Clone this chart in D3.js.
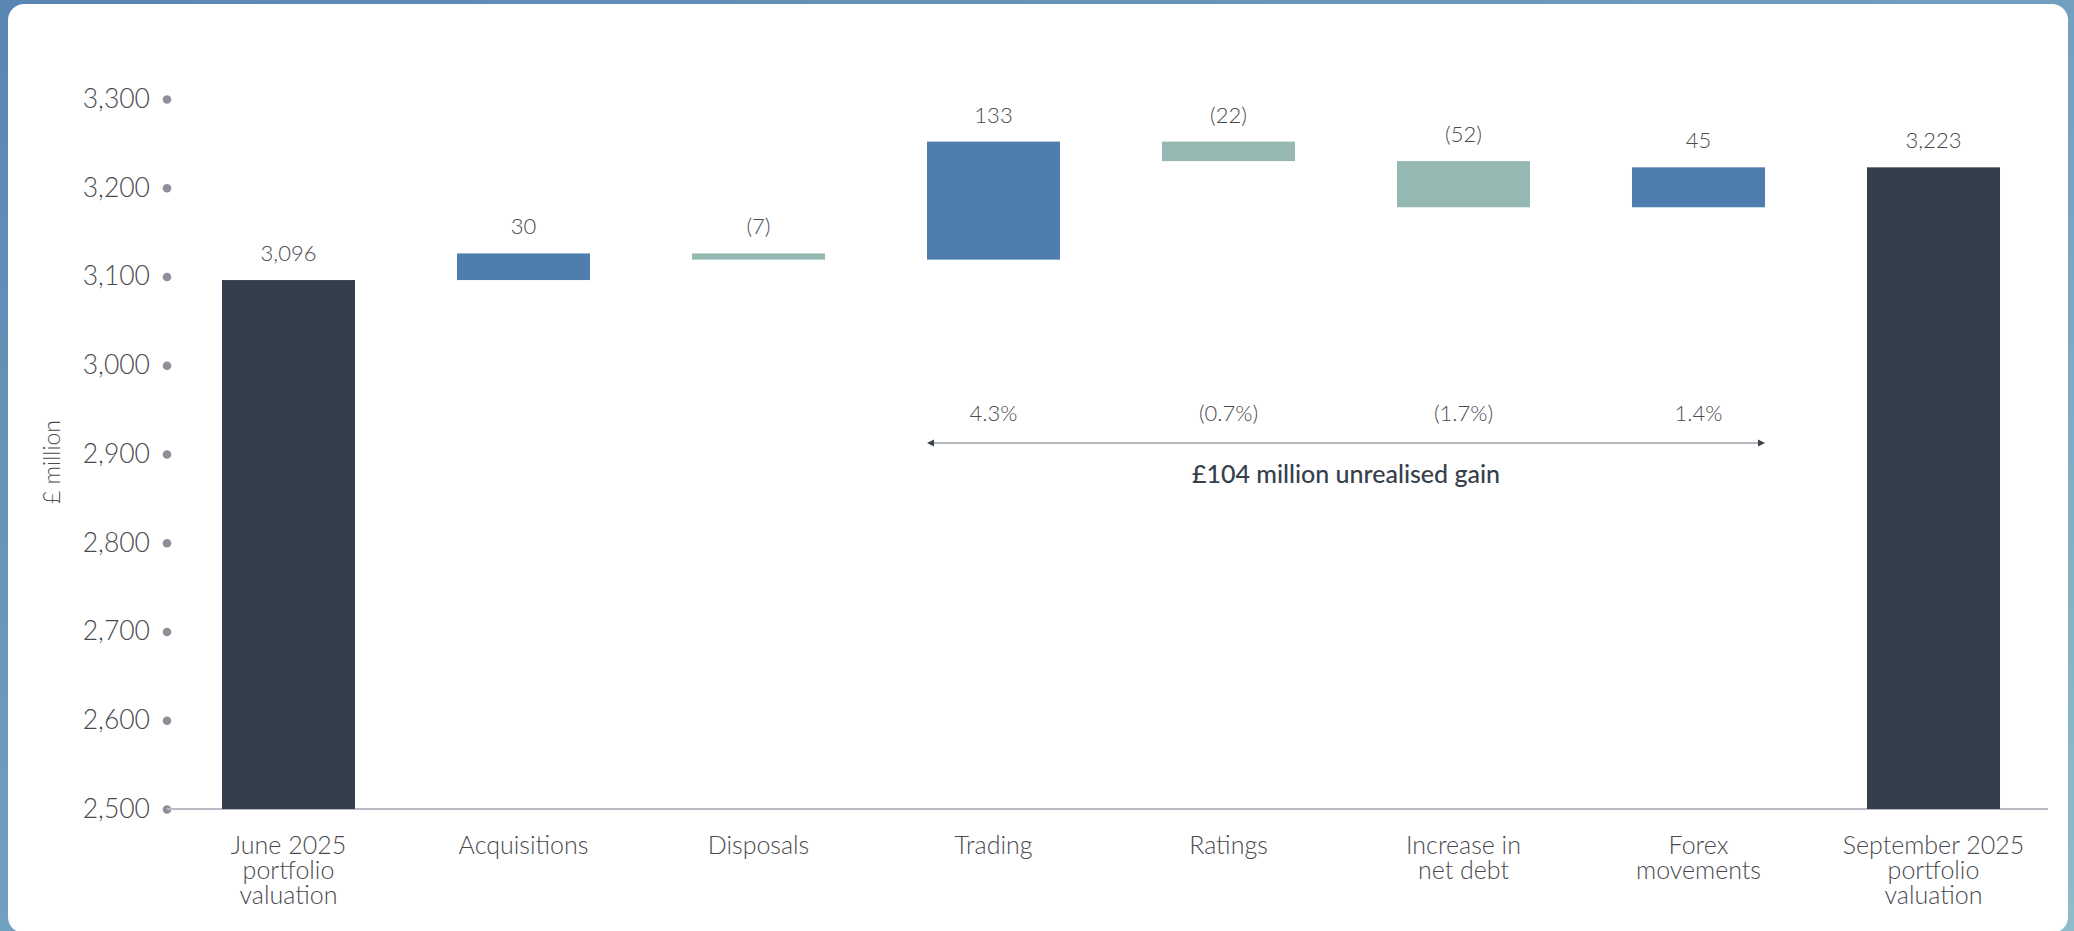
<!DOCTYPE html>
<html>
<head>
<meta charset="utf-8">
<script src="https://cdn.jsdelivr.net/npm/d3@7"></script>
<style>
  body { margin: 0; background: #fff; }
  svg text { font-family: Lato, "Open Sans", sans-serif; }
</style>
</head>
<body>
<div id="chart"></div>
<script>
// Puentes de valoración de cartera (£ million)
const categories = [
  "June 2025\nportfolio\nvaluation",
  "Acquisitions",
  "Disposals",
  "Trading",
  "Ratings",
  "Increase in\nnet debt",
  "Forex\nmovements",
  "September 2025\nportfolio\nvaluation"
];
const values = [3096, 30, -7, 133, -22, -52, 45, 3223];
const isTotal = [true, false, false, false, false, false, false, true];

const yTicks = [2500, 2600, 2700, 2800, 2900, 3000, 3100, 3200, 3300];

const pctCategories = ["Trading", "Ratings", "Increase in\nnet debt", "Forex\nmovements"];
const pctValues = [4.3, -0.7, -1.7, 1.4];
const gainLabel = "£104 million unrealised gain";

const W = 2074, H = 931;
const C_TOTAL = "#343e4a", C_UP = "#4e7dae", C_DOWN = "#95b8b2";
const TEXT = "#4a4a4f";

const svg = d3.select("#chart").append("svg")
  .attr("width", W).attr("height", H);

// --- Marco ---
const defs = svg.append("defs");
const grad = defs.append("linearGradient")
  .attr("id", "frame").attr("x1", "0").attr("y1", "0").attr("x2", "1").attr("y2", "1");
grad.append("stop").attr("offset", "0%").attr("stop-color", "#5886b2");
grad.append("stop").attr("offset", "55%").attr("stop-color", "#74a2c0");
grad.append("stop").attr("offset", "100%").attr("stop-color", "#8fbccb");
svg.append("rect").attr("width", W).attr("height", H).attr("fill", "url(#frame)");
svg.append("rect")
  .attr("x", 8).attr("y", 4).attr("width", W - 14).attr("height", H - 2)
  .attr("rx", 16).attr("fill", "#fff");

// --- Escalas ---
const x = d3.scaleBand()
  .domain(categories)
  .range([171, 2051])
  .paddingInner(0.434)
  .paddingOuter(0.217);

const y = d3.scaleLinear().domain([2500, 3300]).range([809, 99]);

// Cálculo de cascada
let running = 0;
const bars = categories.map((c, i) => {
  let lo, hi;
  if (isTotal[i]) {
    lo = 2500; hi = values[i]; running = values[i];
  } else {
    const start = running;
    running += values[i];
    lo = Math.min(start, running); hi = Math.max(start, running);
  }
  return { c, v: values[i], lo, hi, total: isTotal[i] };
});

const fmt = d3.format(",");
const label = v => v < 0 ? `(${fmt(-v)})` : fmt(v);

// --- Eje Y ---
const yAxis = svg.append("g")
  .attr("transform", "translate(167,0)")
  .call(d3.axisLeft(y).tickValues(yTicks).tickSize(0).tickPadding(17).tickFormat(fmt));
yAxis.select(".domain").remove();
yAxis.selectAll("text")
  .attr("font-size", 26.5).attr("font-weight", 300).attr("fill", TEXT)
  .attr("font-family", "Lato, sans-serif");

// Línea base
svg.append("line")
  .attr("x1", 167).attr("x2", 2048)
  .attr("y1", y(2500)).attr("y2", y(2500))
  .attr("stroke", "#b9bbc3").attr("stroke-width", 2);

yAxis.selectAll(".tick").append("circle")
  .attr("r", 4.3).attr("fill", "#8f8f99");

svg.append("text")
  .attr("transform", `translate(60,462) rotate(-90)`)
  .attr("text-anchor", "middle")
  .attr("font-size", 23).attr("font-weight", 300).attr("fill", TEXT)
  .text("£ million");

// --- Barras ---
svg.append("g").selectAll("rect")
  .data(bars).join("rect")
  .attr("x", d => x(d.c))
  .attr("width", x.bandwidth())
  .attr("y", d => y(d.hi))
  .attr("height", d => Math.max(1, y(d.lo) - y(d.hi)))
  .attr("fill", d => d.total ? C_TOTAL : (d.v >= 0 ? C_UP : C_DOWN));

svg.append("g").selectAll("text")
  .data(bars).join("text")
  .attr("x", d => x(d.c) + x.bandwidth() / 2)
  .attr("y", d => y(d.hi) - 19)
  .attr("text-anchor", "middle")
  .attr("font-size", 22).attr("font-weight", 300).attr("fill", TEXT)
  .text(d => label(d.v));

// --- Etiquetas de categoría ---
const xl = svg.append("g").selectAll("text")
  .data(categories).join("text")
  .attr("x", d => x(d) + x.bandwidth() / 2)
  .attr("y", 854)
  .attr("text-anchor", "middle")
  .attr("font-size", 25).attr("font-weight", 300).attr("fill", TEXT);
xl.selectAll("tspan")
  .data(d => d.split("\n").map(t => ({ t, x: x(d) + x.bandwidth() / 2 })))
  .join("tspan")
  .attr("x", d => d.x)
  .attr("dy", (d, i) => i === 0 ? 0 : 25)
  .text(d => d.t);

// --- Porcentajes y flecha ---
const pctFmt = v => v < 0 ? `(${Math.abs(v).toFixed(1)}%)` : `${v.toFixed(1)}%`;
svg.append("g").selectAll("text")
  .data(pctCategories.map((c, i) => ({ c, v: pctValues[i] }))).join("text")
  .attr("x", d => x(d.c) + x.bandwidth() / 2)
  .attr("y", 421)
  .attr("text-anchor", "middle")
  .attr("font-size", 22).attr("font-weight", 300).attr("fill", TEXT)
  .text(d => pctFmt(d.v));

const ax1 = x(pctCategories[0]);
const ax2 = x(pctCategories[pctCategories.length - 1]) + x.bandwidth();
const ay = 443;
svg.append("line")
  .attr("x1", ax1 + 4).attr("x2", ax2 - 4)
  .attr("y1", ay).attr("y2", ay)
  .attr("stroke", "#9ba0a8").attr("stroke-width", 1.5);
svg.append("polygon")
  .attr("points", `${ax1},${ay} ${ax1 + 7},${ay - 3.5} ${ax1 + 7},${ay + 3.5}`)
  .attr("fill", "#3a4350");
svg.append("polygon")
  .attr("points", `${ax2},${ay} ${ax2 - 7},${ay - 3.5} ${ax2 - 7},${ay + 3.5}`)
  .attr("fill", "#3a4350");

svg.append("text")
  .attr("x", (ax1 + ax2) / 2).attr("y", 483)
  .attr("text-anchor", "middle")
  .attr("font-size", 25).attr("font-weight", 500).attr("fill", "#36404c")
  .text(gainLabel);
</script>
</body>
</html>
